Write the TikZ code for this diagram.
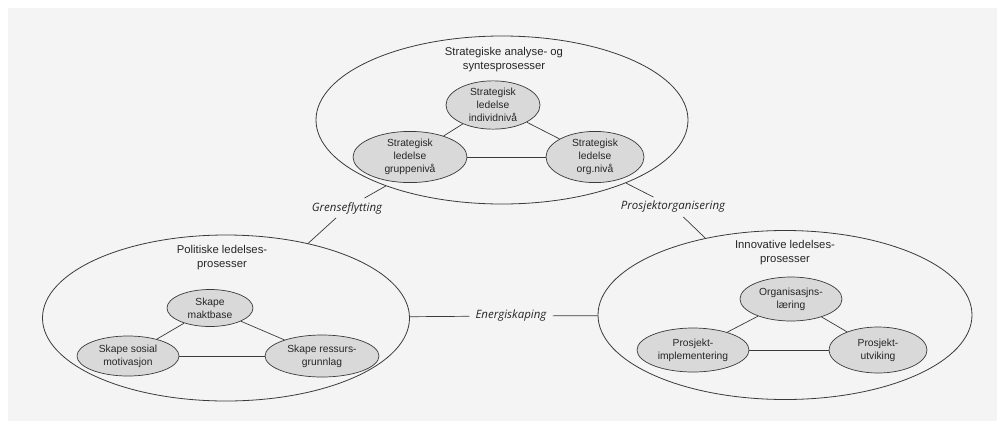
\documentclass[tikz,border=0pt]{standalone}
\usepackage{fontspec}
\setmainfont{Liberation Sans}
\newfontfamily\labfont{Open Sans}
\usetikzlibrary{shapes.geometric}
\definecolor{inkc}{HTML}{3A3A3A}
\definecolor{fillc}{HTML}{D9D9D9}
\definecolor{pagec}{HTML}{F4F4F4}
\begin{document}
\begin{tikzpicture}[x=1pt,y=-1pt,
  bigell/.style={ellipse,draw=inkc,line width=0.8pt,inner sep=0pt},
  smallell/.style={ellipse,draw=inkc,fill=fillc,line width=0.7pt,inner sep=0pt,
    align=center,text=black!85,font=\fontsize{10.3}{13.3}\selectfont},
  titletext/.style={align=center,text=black!85,font=\fontsize{11.3}{14}\selectfont},
  linktext/.style={inner sep=4pt,text=black!85,font=\labfont\itshape\fontsize{11.5}{14}\selectfont},
  conn/.style={draw=inkc,line width=0.7pt}]
\useasboundingbox (0,0) rectangle (997,421);
\fill[pagec] (8,8) rectangle (997,421);
% top group
\node[bigell,minimum width=372,minimum height=168] (top) at (502,120) {};
\node[titletext] (toptitle) at (504,60) {Strategiske analyse- og\\syntesprosesser};
\node[smallell,minimum width=94,minimum height=44] (indiv) at (493,105) {Strategisk\\ledelse\\individnivå};
\node[smallell,minimum width=114,minimum height=46] (grupp) at (410,157) {Strategisk\\ledelse\\gruppenivå};
\node[smallell,minimum width=98,minimum height=46] (orgn) at (595,157) {Strategisk\\ledelse\\org.nivå};
\draw[conn] (indiv) -- (grupp);
\draw[conn] (indiv) -- (orgn);
\draw[conn] (grupp) -- (orgn);
% left group
\node[bigell,minimum width=367,minimum height=166] (left) at (226,318) {};
\node[titletext] (lefttitle) at (222,258) {Politiske ledelses-\\prosesser};
\node[smallell,minimum width=86,minimum height=37] (makt) at (210,308) {Skape\\maktbase};
\node[smallell,minimum width=102,minimum height=40] (sosial) at (128,356) {Skape sosial\\motivasjon};
\node[smallell,minimum width=114,minimum height=42] (ressurs) at (322,356) {Skape ressurs-\\grunnlag};
\draw[conn] (makt) -- (sosial);
\draw[conn] (makt) -- (ressurs);
\draw[conn] (sosial) -- (ressurs);
% right group
\node[bigell,minimum width=374,minimum height=169] (right) at (785,315) {};
\node[titletext] (righttitle) at (785,253) {Innovative ledelses-\\prosesser};
\node[smallell,minimum width=102,minimum height=44] (organ) at (791,299) {Organisasjns-\\læring};
\node[smallell,minimum width=112,minimum height=44] (impl) at (693,350) {Prosjekt-\\implementering};
\node[smallell,minimum width=98,minimum height=46] (utv) at (878,350) {Prosjekt-\\utviking};
\draw[conn] (organ) -- (impl);
\draw[conn] (organ) -- (utv);
\draw[conn] (impl) -- (utv);
% link labels
\node[linktext] (gf) at (347,208) {Grenseflytting};
\node[linktext] (po) at (673,207) {Prosjektorganisering};
\node[linktext,inner sep=6pt] (en) at (511,316) {Energiskaping};
\draw[conn] (top) -- (gf);
\draw[conn] (gf) -- (left);
\draw[conn] (top) -- (po);
\draw[conn] (po) -- (right);
\draw[conn] (left) -- (en);
\draw[conn] (en) -- (right);
\end{tikzpicture}
\end{document}
